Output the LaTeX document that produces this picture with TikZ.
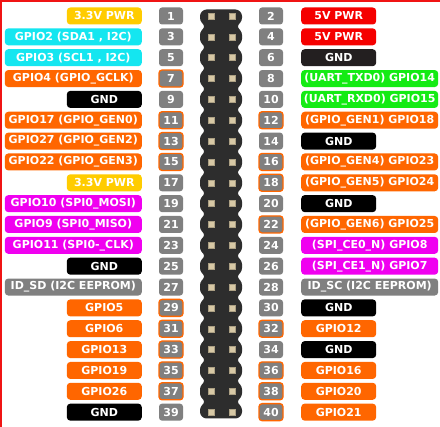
\documentclass[tikz,border=0pt]{standalone}
\usepackage{fontspec}
\setmainfont{DejaVu Sans}
\definecolor{cyel}{RGB}{255,204,0}
\definecolor{ccyan}{RGB}{20,230,240}
\definecolor{corg}{RGB}{255,102,0}
\definecolor{cgrn}{RGB}{20,235,20}
\definecolor{cmag}{RGB}{240,0,240}
\definecolor{cred}{RGB}{245,0,0}
\definecolor{cgry}{RGB}{128,128,128}
\definecolor{cblk}{RGB}{0,0,0}
\definecolor{cdrk}{RGB}{35,31,32}
\definecolor{chdr}{RGB}{45,45,45}
\definecolor{cpin}{RGB}{215,200,165}
\definecolor{cframe}{RGB}{240,20,20}
\tikzset{
  lab/.style={rounded corners=3.5pt, minimum height=17pt, inner sep=0pt, text=white,
    font=\fontsize{11}{13}\selectfont\bfseries},
  sh/.style={minimum width=75pt},
  lg/.style={minimum width=137pt},
  num/.style={lab, fill=cgry, minimum width=24pt, rounded corners=3pt},
  gp/.style={draw=corg, line width=1.3pt},
  pl/.style={},
  hdr/.style={fill=chdr, rounded corners=2.5pt},
  pin/.style={fill=cpin, draw=cpin!80!black, line width=0.4pt},
  frame/.style={draw=cframe, line width=2pt},
}
\newcommand\LP[5]{%
  \node[num,#3] (n#2) at (171,{16+#1*20.85}) {#2};
  \node[lab,#4,anchor=east] (l#2) at (142,{16+#1*20.85}) {#5};}
\newcommand\RP[5]{%
  \node[num,#3] (n#2) at (271,{16+#1*20.85}) {#2};
  \node[lab,#4,anchor=west] (l#2) at (301,{16+#1*20.85}) {#5};}
\begin{document}
\begin{tikzpicture}[x=1pt,y=-1pt]
\useasboundingbox (0,0) rectangle (440,427);
\fill[white] (0,0) rectangle (440,427);
% frame
\draw[frame] (0,1) -- (440,1);
\draw[frame] (1,0) -- (1,427);
% header body
\fill[hdr] (204,9.5) -- (238,9.5) -- (242,13.5)
  \foreach \i in {0,...,18} { -- (242,{16+\i*20.85+4.5}) -- (237,{16+\i*20.85+10.425}) -- (242,{16+\i*20.85+16.35}) }
  -- (242,414.5) -- (238,418.5) -- (204,418.5) -- (200,414.5)
  \foreach \i in {18,17,...,0} { -- (200,{16+\i*20.85+16.35}) -- (205,{16+\i*20.85+10.425}) -- (200,{16+\i*20.85+4.5}) }
  -- (200,13.5) -- cycle;
\foreach \i in {0,...,19} {
  \filldraw[pin] (208,{16+\i*20.85-3}) rectangle +(6,6);
  \filldraw[pin] (229,{16+\i*20.85-3}) rectangle +(6,6);
}
% left column
\LP{0}{1}{pl}{sh,fill=cyel}{3.3V PWR}
\LP{1}{3}{pl}{lg,fill=ccyan}{GPIO2 (SDA1 , I2C)}
\LP{2}{5}{pl}{lg,fill=ccyan}{GPIO3 (SCL1 , I2C)}
\LP{3}{7}{gp}{lg,fill=corg}{GPIO4 (GPIO\_GCLK)}
\LP{4}{9}{pl}{sh,fill=cblk}{GND}
\LP{5}{11}{gp}{lg,fill=corg}{GPIO17 (GPIO\_GEN0)}
\LP{6}{13}{gp}{lg,fill=corg}{GPIO27 (GPIO\_GEN2)}
\LP{7}{15}{gp}{lg,fill=corg}{GPIO22 (GPIO\_GEN3)}
\LP{8}{17}{pl}{sh,fill=cyel}{3.3V PWR}
\LP{9}{19}{pl}{lg,fill=cmag}{GPIO10 (SPI0\_MOSI)}
\LP{10}{21}{pl}{lg,fill=cmag}{GPIO9 (SPI0\_MISO)}
\LP{11}{23}{pl}{lg,fill=cmag}{GPIO11 (SPI0-\_CLK)}
\LP{12}{25}{pl}{sh,fill=cblk}{GND}
\LP{13}{27}{pl}{lg,fill=cgry}{ID\_SD (I2C EEPROM)}
\LP{14}{29}{gp}{sh,fill=corg}{GPIO5}
\LP{15}{31}{gp}{sh,fill=corg}{GPIO6}
\LP{16}{33}{gp}{sh,fill=corg}{GPIO13}
\LP{17}{35}{gp}{sh,fill=corg}{GPIO19}
\LP{18}{37}{gp}{sh,fill=corg}{GPIO26}
\LP{19}{39}{pl}{sh,fill=cblk}{GND}
% right column
\RP{0}{2}{pl}{sh,fill=cred}{5V PWR}
\RP{1}{4}{pl}{sh,fill=cred}{5V PWR}
\RP{2}{6}{pl}{sh,fill=cdrk}{GND}
\RP{3}{8}{pl}{lg,fill=cgrn}{(UART\_TXD0) GPIO14}
\RP{4}{10}{pl}{lg,fill=cgrn}{(UART\_RXD0) GPIO15}
\RP{5}{12}{gp}{lg,fill=corg}{(GPIO\_GEN1) GPIO18}
\RP{6}{14}{pl}{sh,fill=cblk}{GND}
\RP{7}{16}{gp}{lg,fill=corg}{(GPIO\_GEN4) GPIO23}
\RP{8}{18}{gp}{lg,fill=corg}{(GPIO\_GEN5) GPIO24}
\RP{9}{20}{pl}{sh,fill=cblk}{GND}
\RP{10}{22}{gp}{lg,fill=corg}{(GPIO\_GEN6) GPIO25}
\RP{11}{24}{pl}{lg,fill=cmag}{(SPI\_CE0\_N) GPIO8}
\RP{12}{26}{pl}{lg,fill=cmag}{(SPI\_CE1\_N) GPIO7}
\RP{13}{28}{pl}{lg,fill=cgry}{ID\_SC (I2C EEPROM)}
\RP{14}{30}{pl}{sh,fill=cblk}{GND}
\RP{15}{32}{gp}{sh,fill=corg}{GPIO12}
\RP{16}{34}{pl}{sh,fill=cblk}{GND}
\RP{17}{36}{gp}{sh,fill=corg}{GPIO16}
\RP{18}{38}{gp}{sh,fill=corg}{GPIO20}
\RP{19}{40}{gp}{sh,fill=corg}{GPIO21}
\end{tikzpicture}
\end{document}
